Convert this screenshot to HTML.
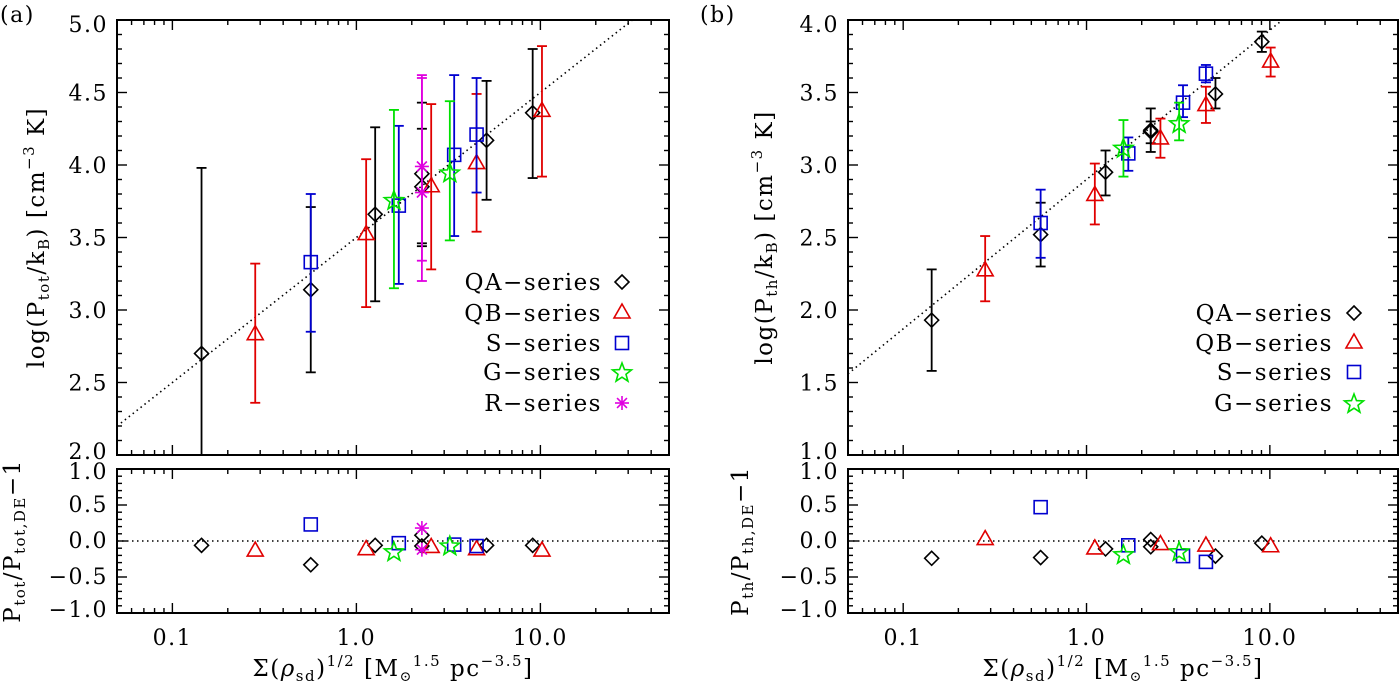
<!DOCTYPE html>
<html><head><meta charset="utf-8"><style>
html,body{margin:0;padding:0;background:#fff;}
svg{display:block;font-family:"DejaVu Serif","Liberation Serif",serif;}
svg text{letter-spacing:1.5px;}
</style></head><body>
<svg id="fig" width="1400" height="683" viewBox="0 0 1400 683" xmlns="http://www.w3.org/2000/svg"></svg>
<script>
// ---- data panel (a) ----
const aQAx=[0.144,0.565,1.265,2.27,2.27,5.1,9.08];
const aQAy=[2.70,3.14,3.66,3.94,3.85,4.17,4.36];
const aQAhi=[3.98,3.71,4.26,4.43,4.25,4.58,4.80];
const aQAlo=[1.9,2.57,3.06,3.44,3.46,3.76,3.91];
const aQBx=[0.282,1.13,2.55,4.5,10.2];
const aQBy=[2.83,3.52,3.85,4.01,4.37];
const aQBhi=[3.32,4.04,4.42,4.49,4.82];
const aQBlo=[2.36,3.02,3.28,3.54,3.92];
const aSx=[0.565,1.7,3.4,4.5];
const aSy=[3.33,3.72,4.07,4.21];
const aShi=[3.80,4.27,4.62,4.60];
const aSlo=[2.85,3.18,3.51,3.81];
const aGx=[1.6,3.22];
const aGy=[3.76,3.95];
const aGhi=[4.38,4.44];
const aGlo=[3.15,3.48];
const aRx=[2.27,2.27];
const aRy=[3.99,3.81];
const aRhi=[4.62,4.60];
const aRlo=[3.20,3.34];
const aResQA=[-0.06,-0.33,-0.06,0.08,-0.07,-0.06,-0.06];
const aResQB=[-0.14,-0.12,-0.09,-0.12,-0.14];
const aResS=[0.23,-0.03,-0.05,-0.07];
const aResG=[-0.14,-0.06];
const aResR=[0.18,-0.12];
const aFit=[3.5,1.0]; // intercept, slope in log x
// ---- data panel (b) ----
const bQAx=[0.143,0.562,1.27,2.24,2.24,5.05,9.04];
const bQAy=[1.93,2.52,2.95,3.23,3.24,3.49,3.85];
const bQAhi=[2.28,2.74,3.10,3.39,3.30,3.60,3.92];
const bQAlo=[1.58,2.30,2.79,3.09,3.15,3.39,3.78];
const bQBx=[0.28,1.11,2.53,4.48,10.1];
const bQBy=[2.27,2.79,3.18,3.41,3.71];
const bQBhi=[2.51,3.01,3.32,3.54,3.81];
const bQBlo=[2.06,2.59,3.05,3.29,3.61];
const bSx=[0.562,1.69,3.36,4.48];
const bSy=[2.60,3.08,3.43,3.63];
const bShi=[2.83,3.19,3.55,3.69];
const bSlo=[2.36,2.96,3.33,3.57];
const bGx=[1.59,3.2];
const bGy=[3.12,3.29];
const bGhi=[3.31,3.43];
const bGlo=[2.92,3.17];
const bResQA=[-0.24,-0.23,-0.11,0.02,-0.08,-0.21,-0.03];
const bResQB=[0.02,-0.11,-0.05,-0.07,-0.08];
const bResS=[0.47,-0.06,-0.21,-0.29];
const bResG=[-0.18,-0.14];
const bFit=[2.9,1.03];
const xTickLabels=["0.1","1.0","10.0"];
const xTickVals=[0.1,1,10];
const aYTicks=["2.0","2.5","3.0","3.5","4.0","4.5","5.0"];
const bYTicks=["1.0","1.5","2.0","2.5","3.0","3.5","4.0"];
const resTicks=["−1.0","−0.5","0.0","0.5","1.0"];

const NS="http://www.w3.org/2000/svg";
const svg=document.getElementById('fig');
function el(tag,attrs,parent,name){const e=document.createElementNS(NS,tag);for(const k in attrs)e.setAttribute(k,attrs[k]);


(parent||svg).appendChild(e);return e;}

const COL={QA:"#000",QB:"#e00000",S:"#0000d0",G:"#00e000",R:"#e000e0"};

function marker(g,type,x,y,name){
  const c=COL[type];const st={fill:"none",stroke:c,"stroke-width":1.6};
  if(type==="QA"){el('polygon',Object.assign({points:`${x},${y-7} ${x+7},${y} ${x},${y+7} ${x-7},${y}`},st),g,name);}
  else if(type==="QB"){el('polygon',Object.assign({points:`${x},${y-9} ${x+8},${y+5} ${x-8},${y+5}`},st),g,name);}
  else if(type==="S"){el('rect',Object.assign({x:x-6.5,y:y-6.5,width:13,height:13},st),g,name);}
  else if(type==="G"){let p=[];for(let i=0;i<10;i++){const r=i%2?4.2:10;const a=-Math.PI/2+i*Math.PI/5;p.push((x+r*Math.cos(a)).toFixed(1)+","+(y+r*Math.sin(a)+1).toFixed(1));}
    el('polygon',Object.assign({points:p.join(" ")},st),g,name);}
  else if(type==="R"){for(let i=0;i<4;i++){const a=i*Math.PI/4;el('line',{x1:x-7*Math.cos(a),y1:y-7*Math.sin(a),x2:x+7*Math.cos(a),y2:y+7*Math.sin(a),stroke:c,"stroke-width":1.6},g,name+'-stroke');}}
}

function panel(P){
  const L=P.left,R=P.right,T=20,B=455,T2=469,B2=613;
  const lx0=Math.log10(0.05),lx1=Math.log10(50);
  const X=v=>L+(Math.log10(v)-lx0)/(lx1-lx0)*(R-L);
  const Y=v=>B-(v-P.ymin)/(P.ymax-P.ymin)*(B-T);
  const Y2=v=>B2-(v+1)/2*(B2-T2);
  const g=el('g',{},svg,P.id+'-panel');
  const fx0=0.05,fx1=50;
  const fy=v=>P.fit[0]+P.fit[1]*Math.log10(v);
  const cp=el('clipPath',{id:P.id+'clip'},g,P.id+'-clip');
  el('rect',{x:L,y:T,width:R-L,height:B-T},cp,P.id+'-clip-rect');
  el('line',{x1:X(fx0),y1:Y(fy(fx0)),x2:X(fx1),y2:Y(fy(fx1)),stroke:"#000","stroke-width":1.6,"stroke-dasharray":"1.5 3.5","clip-path":`url(#${P.id}clip)`},g,P.id+'-fit-line');
  el('line',{x1:L,y1:Y2(0),x2:R,y2:Y2(0),stroke:"#000","stroke-width":1.6,"stroke-dasharray":"1.5 3.5"},g,P.id+'-zero-line');
  P.series.forEach(s=>{
    const sg=el('g',{},g,P.id+'-'+s.t.toLowerCase()+'-series');
    s.x.forEach((xv,i)=>{
      const px=X(xv);
      const lo=Math.max(s.lo[i],P.ymin);
      el('line',{x1:px,y1:Y(s.hi[i]),x2:px,y2:Y(lo),stroke:COL[s.t],"stroke-width":1.8},sg,'error-bar');
      el('line',{x1:px-5,y1:Y(s.hi[i]),x2:px+5,y2:Y(s.hi[i]),stroke:COL[s.t],"stroke-width":1.8},sg,'error-cap-top');
      if(s.lo[i]>P.ymin)el('line',{x1:px-5,y1:Y(lo),x2:px+5,y2:Y(lo),stroke:COL[s.t],"stroke-width":1.8},sg,'error-cap-bottom');
      marker(sg,s.t,px,Y(s.y[i]),'point-'+s.t.toLowerCase());
      marker(sg,s.t,px,Y2(s.r[i]),'residual-'+s.t.toLowerCase());
    });
  });
  el('rect',{x:L,y:T,width:R-L,height:B-T,fill:"none",stroke:"#000","stroke-width":2},g,P.id+'-main-frame');
  el('rect',{x:L,y:T2,width:R-L,height:B2-T2,fill:"none",stroke:"#000","stroke-width":2},g,P.id+'-residual-frame');
  [[T,B],[T2,B2]].forEach(([t,b],k)=>{
    for(let d=-2;d<=1;d++)for(let m=1;m<=9;m++){const v=m*Math.pow(10,d);if(v<0.05||v>50)continue;
      const px=X(v);const len=m===1?10:5;
      el('line',{x1:px,y1:b,x2:px,y2:b-len,stroke:"#000","stroke-width":1.4},g,'x-tick');
      el('line',{x1:px,y1:t,x2:px,y2:t+len,stroke:"#000","stroke-width":1.4},g,'x-tick');}
  });
  xTickVals.forEach((v,i)=>{const t=el('text',{x:X(v),y:645,"font-size":22,"text-anchor":"middle"},g,'x-tick-label');t.textContent=xTickLabels[i];});
  for(let v=P.ymin;v<=P.ymax+1e-6;v+=0.1){const major=Math.abs(Math.round(v*10)%5)===0;const len=major?10:5;const py=Y(v);
    el('line',{x1:L,y1:py,x2:L+len,y2:py,stroke:"#000","stroke-width":1.4},g,'y-tick');
    el('line',{x1:R,y1:py,x2:R-len,y2:py,stroke:"#000","stroke-width":1.4},g,'y-tick');}
  P.yTicks.forEach((s,i)=>{const v=P.ymin+0.5*i;let py=Y(v)+8;if(i===0)py-=4;if(i===P.yTicks.length-1)py+=4;
    const t=el('text',{x:L-9,y:py,"font-size":22,"text-anchor":"end"},g,'y-tick-label');t.textContent=s;});
  for(let k=-10;k<=10;k++){const v=k/10;const len=k%5===0?10:5;const py=Y2(v);
    el('line',{x1:L,y1:py,x2:L+len,y2:py,stroke:"#000","stroke-width":1.4},g,'residual-y-tick');
    el('line',{x1:R,y1:py,x2:R-len,y2:py,stroke:"#000","stroke-width":1.4},g,'residual-y-tick');}
  resTicks.forEach((s,i)=>{const v=-1+0.5*i;let py=Y2(v)+7;if(i===0)py-=3;if(i===4)py+=3;
    const t=el('text',{x:L-9,y:py,"font-size":22,"text-anchor":"end"},g,'residual-y-tick-label');t.textContent=s;});
  P.legend.forEach((t,i)=>{const ly=P.legY[i];
    const tx=el('text',{x:P.legTx,y:ly+8,"font-size":23,"text-anchor":"end"},g,'legend-label');tx.textContent=t[1];
    marker(g,t[0],P.legMx,ly,'legend-marker');});
  const xt=el('text',{x:(L+R)/2,y:676,"font-size":23,"text-anchor":"middle"},g,P.id+'-x-axis-title');
  xt.innerHTML='Σ(<tspan font-style="italic">ρ</tspan><tspan font-size="15" dy="5">sd</tspan><tspan dy="-5">)</tspan><tspan font-size="15" dy="-10">1/2</tspan><tspan dy="10"> [M</tspan><tspan font-size="14" dy="5">⊙</tspan><tspan font-size="15" dy="-15">1.5</tspan><tspan dy="10"> pc</tspan><tspan font-size="15" dy="-10">−3.5</tspan><tspan dy="10">]</tspan>';
  const yt=el('text',{x:0,y:0,"font-size":23,"text-anchor":"middle",transform:`translate(${P.ytX},${(T+B)/2}) rotate(-90)`},g,P.id+'-y-axis-title');
  yt.innerHTML=`log(P<tspan font-size="15" dy="5">${P.sub}</tspan><tspan dy="-5">/k</tspan><tspan font-size="15" dy="5">B</tspan><tspan dy="-5">) [cm</tspan><tspan font-size="15" dy="-10">−3</tspan><tspan dy="10"> K]</tspan>`;
  const rt=el('text',{x:0,y:0,"font-size":23,"text-anchor":"middle",transform:`translate(${P.rtX},${(T2+B2)/2}) rotate(-90)`},g,P.id+'-residual-axis-title');
  rt.innerHTML=`P<tspan font-size="15" dy="5">${P.sub}</tspan><tspan dy="-5">/P</tspan><tspan font-size="15" dy="5">${P.sub},DE</tspan><tspan dy="-5">−1</tspan>`;
  const pl=el('text',{x:P.lab,y:22,"font-size":22,"text-anchor":"start"},g,P.id+'-panel-label');pl.textContent=`(${P.id})`;
}

panel({id:"a",left:117,right:669,ymin:2,ymax:5,fit:aFit,yTicks:aYTicks,ytX:44,rtX:20,sub:"tot",lab:0,
  series:[{t:"QA",x:aQAx,y:aQAy,hi:aQAhi,lo:aQAlo,r:aResQA},{t:"QB",x:aQBx,y:aQBy,hi:aQBhi,lo:aQBlo,r:aResQB},
  {t:"S",x:aSx,y:aSy,hi:aShi,lo:aSlo,r:aResS},{t:"G",x:aGx,y:aGy,hi:aGhi,lo:aGlo,r:aResG},{t:"R",x:aRx,y:aRy,hi:aRhi,lo:aRlo,r:aResR}],
  legend:[["QA","QA−series"],["QB","QB−series"],["S","S−series"],["G","G−series"],["R","R−series"]],
  legY:[282,313,343,372,403],legTx:602,legMx:622});
panel({id:"b",left:848,right:1398,ymin:1,ymax:4,fit:bFit,yTicks:bYTicks,ytX:772,rtX:748,sub:"th",lab:700,
  series:[{t:"QA",x:bQAx,y:bQAy,hi:bQAhi,lo:bQAlo,r:bResQA},{t:"QB",x:bQBx,y:bQBy,hi:bQBhi,lo:bQBlo,r:bResQB},
  {t:"S",x:bSx,y:bSy,hi:bShi,lo:bSlo,r:bResS},{t:"G",x:bGx,y:bGy,hi:bGhi,lo:bGlo,r:bResG}],
  legend:[["QA","QA−series"],["QB","QB−series"],["S","S−series"],["G","G−series"]],
  legY:[313,343,372,403],legTx:1333,legMx:1354});
</script>
</body></html>
